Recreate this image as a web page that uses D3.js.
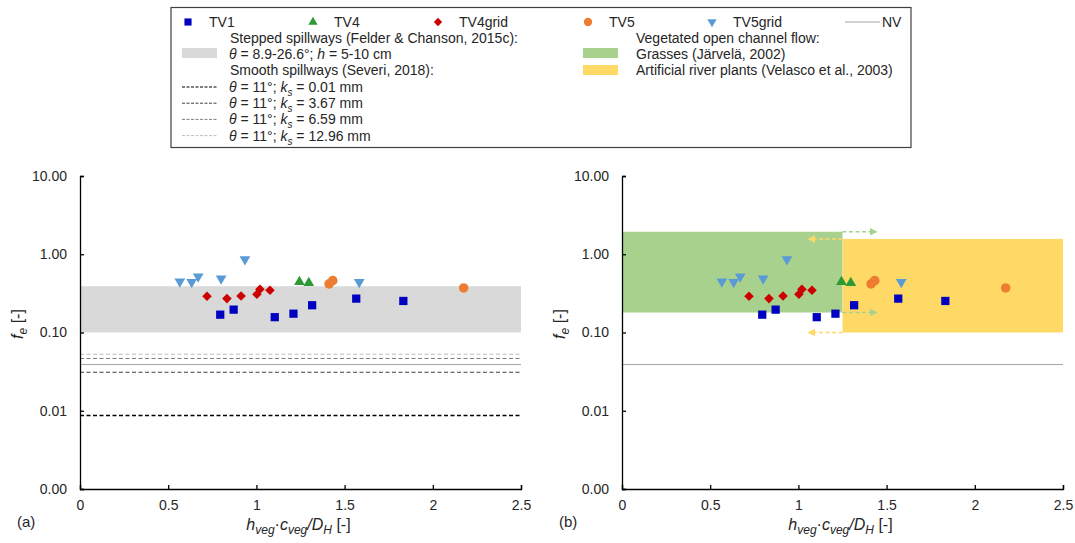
<!DOCTYPE html>
<html>
<head>
<meta charset="utf-8">
<script src="https://cdn.jsdelivr.net/npm/d3@7"></script>
<style>
  body { margin: 0; background: #fff; }
  text { font-family: "Liberation Sans", Arial, sans-serif; fill: #262626; }
</style>
</head>
<body>
<div id="chart-area"></div>
<script>
// measured series
var tv1X = [0.795, 0.871, 1.104, 1.21, 1.316, 1.566, 1.833]
var tv1Y = [0.169, 0.196, 0.157, 0.174, 0.223, 0.271, 0.253]
var tv4X = [1.244, 1.297]
var tv4Y = [0.443, 0.43]
var tv4gridX = [0.72, 0.833, 0.913, 1.003, 1.02, 1.077]
var tv4gridY = [0.291, 0.271, 0.293, 0.308, 0.357, 0.347]
var tv5X = [1.412, 1.433, 2.175]
var tv5Y = [0.418, 0.46, 0.371]
var tv5gridX = [0.566, 0.633, 0.67, 0.80, 0.935, 1.583]
var tv5gridY = [0.447, 0.44, 0.518, 0.489, 0.863, 0.44]

// reference ranges
var steppedRange = [0.1, 0.39]
var smoothKs = ["0.01", "3.67", "6.59", "12.96"]
var smoothFe = [0.0087, 0.0311, 0.0466, 0.0528]
var nvFe = 0.039
var grassX = [0, 1.25]
var grassY = [0.18, 1.94]
var grassArrowTo = 1.44
var velascoX = [1.25, 2.5]
var velascoY = [0.1, 1.57]
var velascoArrowTo = 1.06

var xTicks = [0, 0.5, 1, 1.5, 2, 2.5]
var yTicks = [0.001, 0.01, 0.1, 1, 10]

var width = 1075, height = 543
var svg = d3.select("#chart-area").append("svg")
    .attr("width", width).attr("height", height)

var defs = svg.append("defs")
function arrowMarker(id, color) {
  defs.append("marker").attr("id", id)
    .attr("viewBox", "0 0 10 10").attr("refX", 8).attr("refY", 5)
    .attr("markerWidth", 5).attr("markerHeight", 5).attr("orient", "auto")
    .append("path").attr("d", "M0,0 L10,5 L0,10 z").attr("fill", color)
}
arrowMarker("arrG", "#a9d18e")
arrowMarker("arrY", "#ffd966")

var series = [
  {name: "TV1", xs: tv1X, ys: tv1Y, color: "#0000c0", type: d3.symbolSquare, size: 68, rot: 0},
  {name: "TV4", xs: tv4X, ys: tv4Y, color: "#2e9a35", type: d3.symbolTriangle, size: 50, rot: 0},
  {name: "TV4grid", xs: tv4gridX, ys: tv4gridY, color: "#cc0000", type: d3.symbolSquare, size: 46, rot: 45},
  {name: "TV5", xs: tv5X, ys: tv5Y, color: "#ed7d31", type: d3.symbolCircle, size: 72, rot: 0},
  {name: "TV5grid", xs: tv5gridX, ys: tv5gridY, color: "#5b9bd5", type: d3.symbolTriangle, size: 50, rot: 180}
]

var y = d3.scaleLog().domain([0.001, 10]).range([489, 176])
var smoothColors = ["#000000", "#404040", "#7f7f7f", "#bfbfbf"]

function subText(sel, parts, big, small) {
  // parts: [text, italic, isSub]
  var prevSub = false
  parts.forEach(function(p) {
    var t = sel.append("tspan").text(p[0])
    if (p[1]) t.attr("font-style", "italic")
    if (p[2]) t.attr("font-size", small)
    if (p[2] && !prevSub) t.attr("dy", 4)
    if (!p[2] && prevSub) t.attr("dy", -4)
    prevSub = p[2]
  })
}

function panel(x0, label, isB) {
  var x = d3.scaleLinear().domain([0, 2.5]).range([x0, x0 + 441])
  var g = svg.append("g")

  if (!isB) {
    g.append("rect")
      .attr("x", x(0)).attr("width", x(2.5) - x(0))
      .attr("y", y(steppedRange[1])).attr("height", y(steppedRange[0]) - y(steppedRange[1]))
      .attr("fill", "#d9d9d9")
    smoothFe.forEach(function(v, i) {
      g.append("line").attr("x1", x(0)).attr("x2", x(2.5))
        .attr("y1", y(v)).attr("y2", y(v))
        .attr("stroke", smoothColors[i]).attr("stroke-width", i == 0 ? 1.6 : 1.1)
        .attr("stroke-dasharray", "4,2.5")
    })
  } else {
    g.append("rect")
      .attr("x", x(grassX[0])).attr("width", x(grassX[1]) - x(grassX[0]))
      .attr("y", y(grassY[1])).attr("height", y(grassY[0]) - y(grassY[1]))
      .attr("fill", "#a9d18e")
    g.append("rect")
      .attr("x", x(velascoX[0])).attr("width", x(velascoX[1]) - x(velascoX[0]))
      .attr("y", y(velascoY[1])).attr("height", y(velascoY[0]) - y(velascoY[1]))
      .attr("fill", "#ffd966")
    grassY.forEach(function(v) {
      g.append("line").attr("x1", x(grassX[1])).attr("x2", x(grassArrowTo))
        .attr("y1", y(v)).attr("y2", y(v))
        .attr("stroke", "#a9d18e").attr("stroke-width", 1.5)
        .attr("stroke-dasharray", "4,2.5").attr("marker-end", "url(#arrG)")
    })
    velascoY.forEach(function(v) {
      g.append("line").attr("x1", x(velascoX[0])).attr("x2", x(velascoArrowTo))
        .attr("y1", y(v)).attr("y2", y(v))
        .attr("stroke", "#ffd966").attr("stroke-width", 1.5)
        .attr("stroke-dasharray", "4,2.5").attr("marker-end", "url(#arrY)")
    })
  }
  g.append("line").attr("x1", x(0)).attr("x2", x(2.5))
    .attr("y1", y(nvFe)).attr("y2", y(nvFe))
    .attr("stroke", "#a6a6a6").attr("stroke-width", 1)

  // axes
  var bottomAxis = d3.axisBottom(x).tickValues(xTicks).tickSize(-4).tickPadding(11)
    .tickFormat(function(d) { return d })
  var ax = g.append("g").attr("transform", "translate(0," + y(0.001) + ")").call(bottomAxis)
  var leftAxis = d3.axisLeft(y).tickValues(yTicks).tickSize(-4).tickPadding(13)
    .tickFormat(function(d) { return d.toFixed(2) })
  var ay = g.append("g").attr("transform", "translate(" + x(0) + ",0)").call(leftAxis)
  ;[ax, ay].forEach(function(a) {
    a.select(".domain").attr("stroke", "#000").attr("stroke-width", 1.3)
    a.selectAll(".tick line").attr("stroke", "#000").attr("stroke-width", 1.3)
    a.selectAll("text").attr("font-size", 14).attr("fill", "#262626")
      .attr("font-family", "Liberation Sans, Arial, sans-serif")
  })

  // points
  series.forEach(function(s) {
    g.selectAll(null).data(s.xs).enter().append("path")
      .attr("d", d3.symbol().type(s.type).size(s.size))
      .attr("transform", function(d, i) {
        return "translate(" + x(d) + "," + y(s.ys[i]) + ") rotate(" + s.rot + ")"
      })
      .attr("fill", s.color)
  })

  // axis titles
  var xt = g.append("text").attr("x", x(1.25) - 2).attr("y", 530)
    .attr("text-anchor", "middle").attr("font-size", 16)
  subText(xt, [["h", 1, 0], ["veg", 1, 1], ["·", 0, 0], ["c", 1, 0], ["veg", 1, 1],
               ["/D", 1, 0], ["H", 1, 1], [" [-]", 0, 0]], 16, 12)

  var yt = g.append("text").attr("transform", "translate(" + (x0 - 57) + ",324) rotate(-90)")
    .attr("text-anchor", "middle").attr("font-size", 16)
  subText(yt, [["f", 1, 0], ["e", 1, 1], [" [-]", 0, 0]], 16, 12)

  g.append("text").attr("x", x0 - 63).attr("y", 527).attr("font-size", 15).text(label)
}

panel(80, "(a)", false)
panel(622, "(b)", true)

// legend
var lg = svg.append("g")
lg.append("rect").attr("x", 171).attr("y", 7.5).attr("width", 740).attr("height", 140)
  .attr("fill", "#fff").attr("stroke", "#404040").attr("stroke-width", 1.2)

var legMarkX = [188, 313, 438, 588, 712]
series.forEach(function(s, i) {
  lg.append("path")
    .attr("d", d3.symbol().type(s.type).size(s.size * 0.75))
    .attr("transform", "translate(" + legMarkX[i] + ",22) rotate(" + s.rot + ")")
    .attr("fill", s.color)
  lg.append("text").attr("x", legMarkX[i] + 21).attr("y", 22).attr("dy", "0.35em")
    .attr("font-size", 14).text(s.name)
})
lg.append("line").attr("x1", 845).attr("x2", 880).attr("y1", 22).attr("y2", 22)
  .attr("stroke", "#a6a6a6").attr("stroke-width", 1.2)
lg.append("text").attr("x", 882).attr("y", 22).attr("dy", "0.35em").attr("font-size", 14).text("NV")

function legText(xp, yp) {
  return lg.append("text").attr("x", xp).attr("y", yp).attr("dy", "0.35em").attr("font-size", 14)
}
legText(230, 38).text("Stepped spillways (Felder & Chanson, 2015c):")
lg.append("rect").attr("x", 182).attr("y", 48).attr("width", 35).attr("height", 10).attr("fill", "#d9d9d9")
var t3 = legText(229, 54)
subText(t3, [["θ", 1, 0], [" = 8.9-26.6°; ", 0, 0], ["h", 1, 0], [" = 5-10 cm", 0, 0]], 14, 10)
legText(230, 70.5).text("Smooth spillways (Severi, 2018):")
smoothKs.forEach(function(k, i) {
  var yy = 87 + i * 16.2
  lg.append("line").attr("x1", 182).attr("x2", 217).attr("y1", yy).attr("y2", yy)
    .attr("stroke", smoothColors[i]).attr("stroke-width", 1).attr("stroke-dasharray", "3,1.5")
  var t = legText(229, yy)
  subText(t, [["θ", 1, 0], [" = 11°; ", 0, 0], ["k", 1, 0], ["s", 1, 1], [" = " + k + " mm", 0, 0]], 14, 10)
})
legText(636, 38).text("Vegetated open channel flow:")
lg.append("rect").attr("x", 583).attr("y", 48).attr("width", 35).attr("height", 10).attr("fill", "#a9d18e")
legText(636, 54).text("Grasses (Järvelä, 2002)")
lg.append("rect").attr("x", 583).attr("y", 65).attr("width", 35).attr("height", 10).attr("fill", "#ffd966")
legText(636, 70.5).text("Artificial river plants (Velasco et al., 2003)")
</script>
</body>
</html>
